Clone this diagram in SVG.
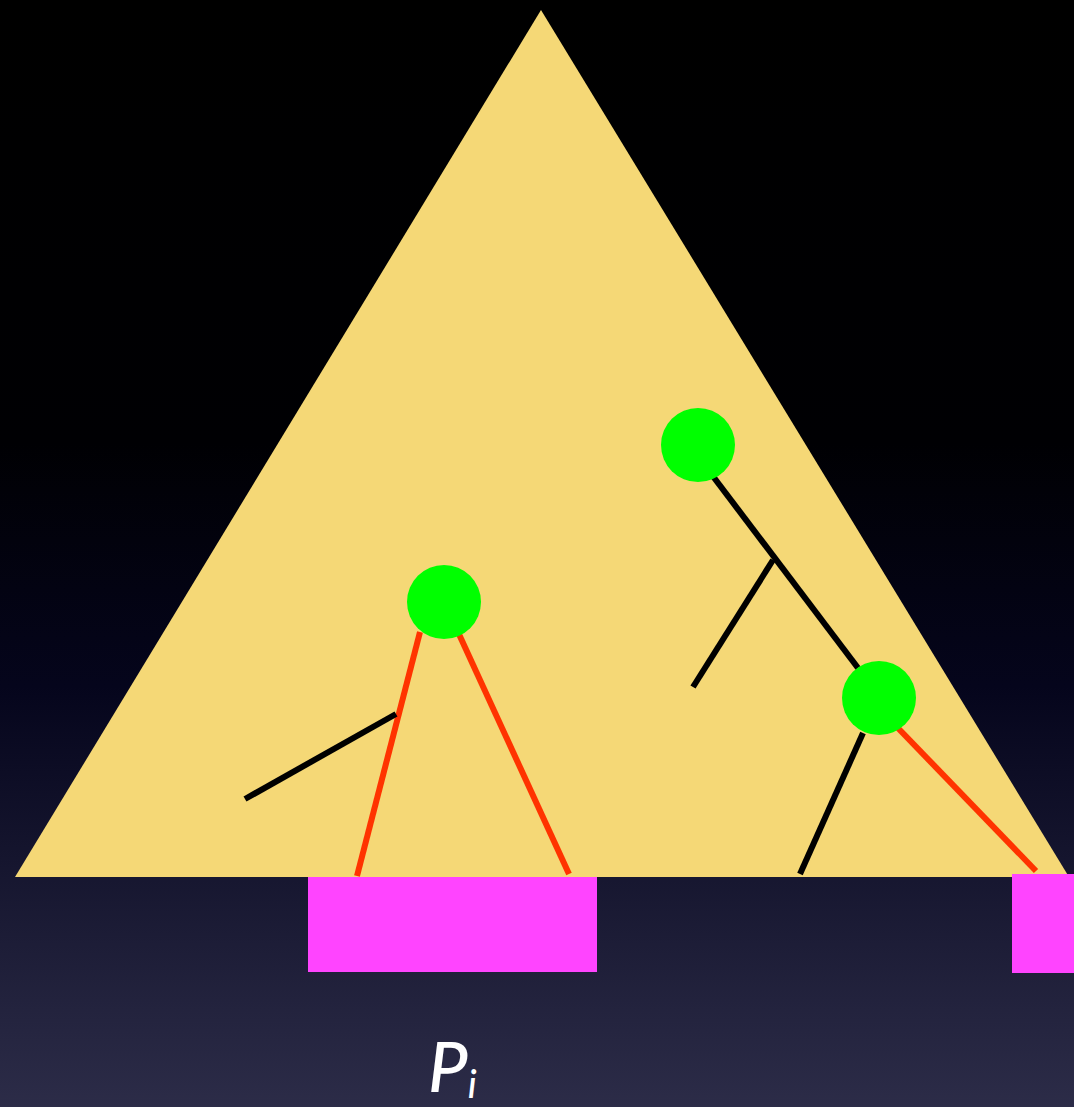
<svg xmlns="http://www.w3.org/2000/svg" width="1074" height="1107" viewBox="0 0 1074 1107">
<defs>
<linearGradient id="bg" x1="0" y1="0" x2="0" y2="1">
<stop offset="0" stop-color="#000000"/>
<stop offset="0.4" stop-color="#000003"/>
<stop offset="0.62" stop-color="#05051c"/>
<stop offset="1" stop-color="#2c2c48"/>
</linearGradient>
<style>
.node{fill:#00ff00}
.blk{stroke:#000;stroke-width:6;fill:none}
.red{stroke:#ff3300;stroke-width:6;fill:none}
.leaf{fill:#ff44ff}
.lbl{font-family:Lato,"Open Sans",sans-serif;font-style:italic;font-weight:500;fill:#fff}
</style>
</defs>
<rect width="1074" height="1107" fill="url(#bg)"/>
<polygon id="tree" points="541,10 15,877 1069,877" fill="#f5d876"/>
<g id="connectors">
<line class="red" x1="420" y1="632" x2="357" y2="876"/>
<line class="red" x1="458" y1="632" x2="569" y2="874"/>
<line class="blk" x1="396" y1="714" x2="245" y2="799"/>
<line class="blk" x1="712" y1="475" x2="858" y2="668"/>
<line class="blk" x1="773" y1="560" x2="693" y2="687"/>
<line class="blk" x1="863" y1="733" x2="800" y2="874"/>
<line class="red" x1="896" y1="726" x2="1036" y2="871"/>
</g>
<g id="node1"><circle class="node" cx="444" cy="602" r="37"/></g>
<g id="node2"><circle class="node" cx="698" cy="445" r="37"/></g>
<g id="node3"><circle class="node" cx="879" cy="698" r="37"/></g>
<g id="leaf1"><rect class="leaf" x="308" y="877" width="289" height="95"/></g>
<g id="leaf2"><rect class="leaf" x="1012" y="874" width="62" height="99"/></g>
<g id="label"><text class="lbl" x="428" y="1092" font-size="70">P<tspan font-size="38" dy="6">i</tspan></text></g>
</svg>
